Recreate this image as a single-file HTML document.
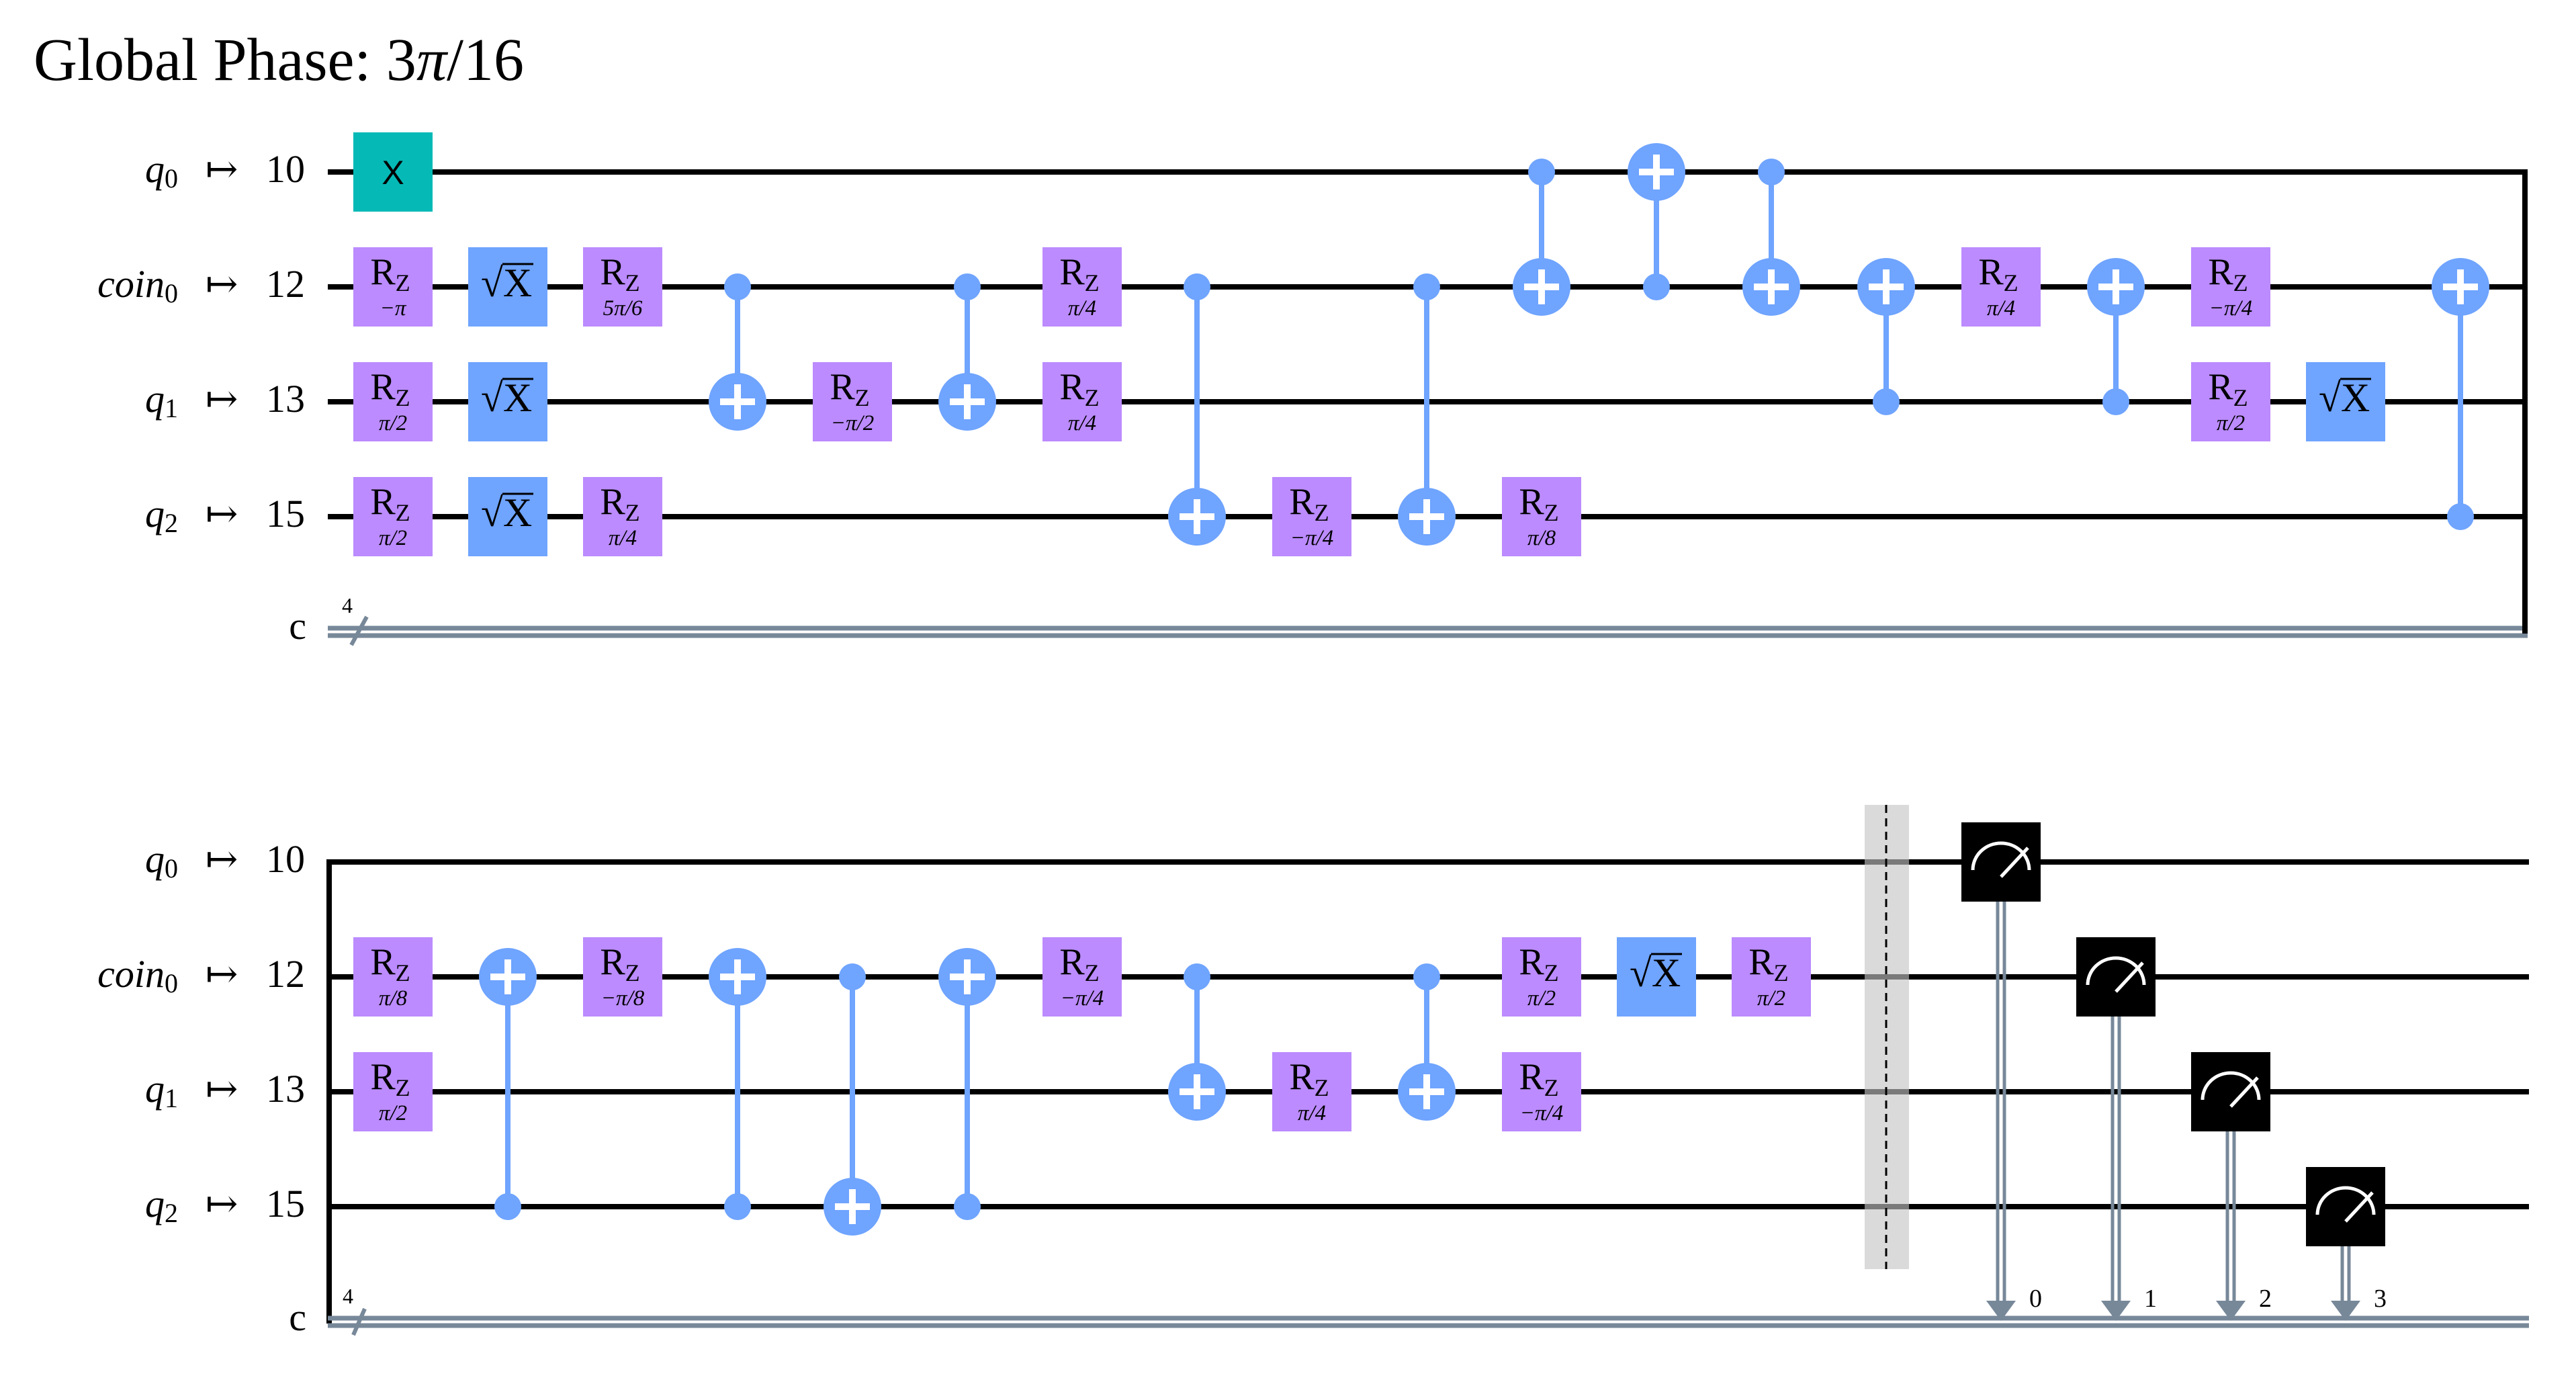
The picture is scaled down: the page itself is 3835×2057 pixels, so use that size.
<!DOCTYPE html>
<html><head><meta charset="utf-8">
<style>
html,body{margin:0;padding:0;background:#fff;}
svg{display:block;}
text{font-family:"Liberation Serif","DejaVu Serif",serif;fill:#000;}
.lab{font-size:58px;}
.it{font-style:italic;}
.sub{font-size:40px;}
.r{font-size:56px;text-anchor:middle;}
.s{font-size:36px;}
.p{font-size:33px;text-anchor:middle;font-style:italic;}
.sx{font-size:60px;}
.xg{font-family:"Liberation Sans",sans-serif;font-size:50px;text-anchor:middle;}
.w{stroke:#000;stroke-width:8;}
.cw{stroke:#778899;stroke-width:7;}
.cl{stroke:#6fa4ff;stroke-width:8;}
.pl{stroke:#fff;stroke-width:10;fill:none;}
.rzr{fill:#bb8bff;}
.sxr{fill:#6fa4ff;}
.dot{fill:#6fa4ff;}
.ml{font-size:38px;}
</style></head>
<body>
<svg width="3835" height="2057" viewBox="0 0 3835 2057" xmlns="http://www.w3.org/2000/svg">
<defs>
<g id="plus"><path class="pl" d="M-26 0 H26 M0 -26 V26"/></g>
<path id="meter" d="M-42 12 A42 40 0 0 1 42 12" stroke="#fff" stroke-width="5" fill="none"/>
</defs>
<text x="50" y="119" style="font-size:90px">Global Phase: 3<tspan font-style="italic">π</tspan>/16</text>

<!-- ============ TOP SECTION ============ -->
<g class="lab">
<text x="265" y="271" text-anchor="end"><tspan class="it">q</tspan><tspan class="sub" dy="8">0</tspan></text>
<text x="265" y="442" text-anchor="end"><tspan class="it">coin</tspan><tspan class="sub" dy="8">0</tspan></text>
<text x="265" y="613" text-anchor="end"><tspan class="it">q</tspan><tspan class="sub" dy="8">1</tspan></text>
<text x="265" y="784" text-anchor="end"><tspan class="it">q</tspan><tspan class="sub" dy="8">2</tspan></text>
<text x="330" y="271" text-anchor="middle">↦</text><text x="330" y="442" text-anchor="middle">↦</text>
<text x="330" y="613" text-anchor="middle">↦</text><text x="330" y="784" text-anchor="middle">↦</text>
<text x="396" y="271">10</text><text x="396" y="442">12</text><text x="396" y="613">13</text><text x="396" y="784">15</text>
<text x="456" y="951" text-anchor="end">c</text>
</g>
<text x="509" y="912" style="font-size:32px">4</text>

<line class="w" x1="488" y1="256" x2="3763" y2="256"/>
<line class="w" x1="488" y1="427" x2="3763" y2="427"/>
<line class="w" x1="488" y1="598" x2="3763" y2="598"/>
<line class="w" x1="488" y1="769" x2="3763" y2="769"/>
<line class="cw" x1="488" y1="935" x2="3763" y2="935"/>
<line class="cw" x1="488" y1="946" x2="3763" y2="946"/>
<line class="cw" x1="523" y1="960" x2="546" y2="918" style="stroke-width:6"/>
<line class="w" x1="3759" y1="252" x2="3759" y2="943"/>

<g transform="translate(585,256)"><rect x="-59" y="-59" width="118" height="118" fill="#05bab6"/><text class="xg" y="18">X</text></g>
<g transform="translate(585,427)"><rect class="rzr" x="-59" y="-59" width="118" height="118"/><text class="r" x="-4" y="-4">R<tspan class="s" dy="10">Z</tspan></text><text class="p" y="42">−π</text></g>
<g transform="translate(585,598)"><rect class="rzr" x="-59" y="-59" width="118" height="118"/><text class="r" x="-4" y="-4">R<tspan class="s" dy="10">Z</tspan></text><text class="p" y="42">π/2</text></g>
<g transform="translate(585,769)"><rect class="rzr" x="-59" y="-59" width="118" height="118"/><text class="r" x="-4" y="-4">R<tspan class="s" dy="10">Z</tspan></text><text class="p" y="42">π/2</text></g>
<g transform="translate(756,427)"><rect class="sxr" x="-59" y="-59" width="118" height="118"/><text class="sx" x="-40" y="14">√X</text><line x1="-8" y1="-34" x2="38" y2="-34" stroke="#000" stroke-width="3"/></g>
<g transform="translate(756,598)"><rect class="sxr" x="-59" y="-59" width="118" height="118"/><text class="sx" x="-40" y="14">√X</text><line x1="-8" y1="-34" x2="38" y2="-34" stroke="#000" stroke-width="3"/></g>
<g transform="translate(756,769)"><rect class="sxr" x="-59" y="-59" width="118" height="118"/><text class="sx" x="-40" y="14">√X</text><line x1="-8" y1="-34" x2="38" y2="-34" stroke="#000" stroke-width="3"/></g>
<g transform="translate(927,427)"><rect class="rzr" x="-59" y="-59" width="118" height="118"/><text class="r" x="-4" y="-4">R<tspan class="s" dy="10">Z</tspan></text><text class="p" y="42">5π/6</text></g>
<g transform="translate(927,769)"><rect class="rzr" x="-59" y="-59" width="118" height="118"/><text class="r" x="-4" y="-4">R<tspan class="s" dy="10">Z</tspan></text><text class="p" y="42">π/4</text></g>
<g transform="translate(1098,0)"><line class="cl" x1="0" y1="427" x2="0" y2="598"/><circle class="dot" cy="427" r="20"/><circle class="dot" cy="598" r="43"/><use href="#plus" y="598"/></g>
<g transform="translate(1269,598)"><rect class="rzr" x="-59" y="-59" width="118" height="118"/><text class="r" x="-4" y="-4">R<tspan class="s" dy="10">Z</tspan></text><text class="p" y="42">−π/2</text></g>
<g transform="translate(1440,0)"><line class="cl" x1="0" y1="427" x2="0" y2="598"/><circle class="dot" cy="427" r="20"/><circle class="dot" cy="598" r="43"/><use href="#plus" y="598"/></g>
<g transform="translate(1611,427)"><rect class="rzr" x="-59" y="-59" width="118" height="118"/><text class="r" x="-4" y="-4">R<tspan class="s" dy="10">Z</tspan></text><text class="p" y="42">π/4</text></g>
<g transform="translate(1611,598)"><rect class="rzr" x="-59" y="-59" width="118" height="118"/><text class="r" x="-4" y="-4">R<tspan class="s" dy="10">Z</tspan></text><text class="p" y="42">π/4</text></g>
<g transform="translate(1782,0)"><line class="cl" x1="0" y1="427" x2="0" y2="769"/><circle class="dot" cy="427" r="20"/><circle class="dot" cy="769" r="43"/><use href="#plus" y="769"/></g>
<g transform="translate(1953,769)"><rect class="rzr" x="-59" y="-59" width="118" height="118"/><text class="r" x="-4" y="-4">R<tspan class="s" dy="10">Z</tspan></text><text class="p" y="42">−π/4</text></g>
<g transform="translate(2124,0)"><line class="cl" x1="0" y1="427" x2="0" y2="769"/><circle class="dot" cy="427" r="20"/><circle class="dot" cy="769" r="43"/><use href="#plus" y="769"/></g>
<g transform="translate(2295,0)"><line class="cl" x1="0" y1="256" x2="0" y2="427"/><circle class="dot" cy="256" r="20"/><circle class="dot" cy="427" r="43"/><use href="#plus" y="427"/></g>
<g transform="translate(2295,769)"><rect class="rzr" x="-59" y="-59" width="118" height="118"/><text class="r" x="-4" y="-4">R<tspan class="s" dy="10">Z</tspan></text><text class="p" y="42">π/8</text></g>
<g transform="translate(2466,0)"><line class="cl" x1="0" y1="256" x2="0" y2="427"/><circle class="dot" cy="427" r="20"/><circle class="dot" cy="256" r="43"/><use href="#plus" y="256"/></g>
<g transform="translate(2637,0)"><line class="cl" x1="0" y1="256" x2="0" y2="427"/><circle class="dot" cy="256" r="20"/><circle class="dot" cy="427" r="43"/><use href="#plus" y="427"/></g>
<g transform="translate(2808,0)"><line class="cl" x1="0" y1="427" x2="0" y2="598"/><circle class="dot" cy="598" r="20"/><circle class="dot" cy="427" r="43"/><use href="#plus" y="427"/></g>
<g transform="translate(2979,427)"><rect class="rzr" x="-59" y="-59" width="118" height="118"/><text class="r" x="-4" y="-4">R<tspan class="s" dy="10">Z</tspan></text><text class="p" y="42">π/4</text></g>
<g transform="translate(3150,0)"><line class="cl" x1="0" y1="427" x2="0" y2="598"/><circle class="dot" cy="598" r="20"/><circle class="dot" cy="427" r="43"/><use href="#plus" y="427"/></g>
<g transform="translate(3321,427)"><rect class="rzr" x="-59" y="-59" width="118" height="118"/><text class="r" x="-4" y="-4">R<tspan class="s" dy="10">Z</tspan></text><text class="p" y="42">−π/4</text></g>
<g transform="translate(3321,598)"><rect class="rzr" x="-59" y="-59" width="118" height="118"/><text class="r" x="-4" y="-4">R<tspan class="s" dy="10">Z</tspan></text><text class="p" y="42">π/2</text></g>
<g transform="translate(3492,598)"><rect class="sxr" x="-59" y="-59" width="118" height="118"/><text class="sx" x="-40" y="14">√X</text><line x1="-8" y1="-34" x2="38" y2="-34" stroke="#000" stroke-width="3"/></g>
<g transform="translate(3663,0)"><line class="cl" x1="0" y1="427" x2="0" y2="769"/><circle class="dot" cy="769" r="20"/><circle class="dot" cy="427" r="43"/><use href="#plus" y="427"/></g>

<!-- ============ BOTTOM SECTION ============ -->
<g class="lab">
<text x="265" y="1298" text-anchor="end"><tspan class="it">q</tspan><tspan class="sub" dy="8">0</tspan></text>
<text x="265" y="1469" text-anchor="end"><tspan class="it">coin</tspan><tspan class="sub" dy="8">0</tspan></text>
<text x="265" y="1640" text-anchor="end"><tspan class="it">q</tspan><tspan class="sub" dy="8">1</tspan></text>
<text x="265" y="1811" text-anchor="end"><tspan class="it">q</tspan><tspan class="sub" dy="8">2</tspan></text>
<text x="330" y="1298" text-anchor="middle">↦</text><text x="330" y="1469" text-anchor="middle">↦</text>
<text x="330" y="1640" text-anchor="middle">↦</text><text x="330" y="1811" text-anchor="middle">↦</text>
<text x="396" y="1298">10</text><text x="396" y="1469">12</text><text x="396" y="1640">13</text><text x="396" y="1811">15</text>
<text x="456" y="1980" text-anchor="end">c</text>
</g>
<text x="510" y="1940" style="font-size:32px">4</text>

<line class="w" x1="490" y1="1283" x2="3765" y2="1283"/>
<line class="w" x1="490" y1="1454" x2="3765" y2="1454"/>
<line class="w" x1="490" y1="1625" x2="3765" y2="1625"/>
<line class="w" x1="490" y1="1796" x2="3765" y2="1796"/>
<line class="w" x1="490" y1="1279" x2="490" y2="1970"/>
<line class="cw" x1="488" y1="1962" x2="3765" y2="1962"/>
<line class="cw" x1="488" y1="1973" x2="3765" y2="1973"/>
<line class="cw" x1="526" y1="1987" x2="543" y2="1948" style="stroke-width:6"/>

<g transform="translate(585,1454)"><rect class="rzr" x="-59" y="-59" width="118" height="118"/><text class="r" x="-4" y="-4">R<tspan class="s" dy="10">Z</tspan></text><text class="p" y="42">π/8</text></g>
<g transform="translate(585,1625)"><rect class="rzr" x="-59" y="-59" width="118" height="118"/><text class="r" x="-4" y="-4">R<tspan class="s" dy="10">Z</tspan></text><text class="p" y="42">π/2</text></g>
<g transform="translate(756,0)"><line class="cl" x1="0" y1="1454" x2="0" y2="1796"/><circle class="dot" cy="1796" r="20"/><circle class="dot" cy="1454" r="43"/><use href="#plus" y="1454"/></g>
<g transform="translate(927,1454)"><rect class="rzr" x="-59" y="-59" width="118" height="118"/><text class="r" x="-4" y="-4">R<tspan class="s" dy="10">Z</tspan></text><text class="p" y="42">−π/8</text></g>
<g transform="translate(1098,0)"><line class="cl" x1="0" y1="1454" x2="0" y2="1796"/><circle class="dot" cy="1796" r="20"/><circle class="dot" cy="1454" r="43"/><use href="#plus" y="1454"/></g>
<g transform="translate(1269,0)"><line class="cl" x1="0" y1="1454" x2="0" y2="1796"/><circle class="dot" cy="1454" r="20"/><circle class="dot" cy="1796" r="43"/><use href="#plus" y="1796"/></g>
<g transform="translate(1440,0)"><line class="cl" x1="0" y1="1454" x2="0" y2="1796"/><circle class="dot" cy="1796" r="20"/><circle class="dot" cy="1454" r="43"/><use href="#plus" y="1454"/></g>
<g transform="translate(1611,1454)"><rect class="rzr" x="-59" y="-59" width="118" height="118"/><text class="r" x="-4" y="-4">R<tspan class="s" dy="10">Z</tspan></text><text class="p" y="42">−π/4</text></g>
<g transform="translate(1782,0)"><line class="cl" x1="0" y1="1454" x2="0" y2="1625"/><circle class="dot" cy="1454" r="20"/><circle class="dot" cy="1625" r="43"/><use href="#plus" y="1625"/></g>
<g transform="translate(1953,1625)"><rect class="rzr" x="-59" y="-59" width="118" height="118"/><text class="r" x="-4" y="-4">R<tspan class="s" dy="10">Z</tspan></text><text class="p" y="42">π/4</text></g>
<g transform="translate(2124,0)"><line class="cl" x1="0" y1="1454" x2="0" y2="1625"/><circle class="dot" cy="1454" r="20"/><circle class="dot" cy="1625" r="43"/><use href="#plus" y="1625"/></g>
<g transform="translate(2295,1454)"><rect class="rzr" x="-59" y="-59" width="118" height="118"/><text class="r" x="-4" y="-4">R<tspan class="s" dy="10">Z</tspan></text><text class="p" y="42">π/2</text></g>
<g transform="translate(2295,1625)"><rect class="rzr" x="-59" y="-59" width="118" height="118"/><text class="r" x="-4" y="-4">R<tspan class="s" dy="10">Z</tspan></text><text class="p" y="42">−π/4</text></g>
<g transform="translate(2466,1454)"><rect class="sxr" x="-59" y="-59" width="118" height="118"/><text class="sx" x="-40" y="14">√X</text><line x1="-8" y1="-34" x2="38" y2="-34" stroke="#000" stroke-width="3"/></g>
<g transform="translate(2637,1454)"><rect class="rzr" x="-59" y="-59" width="118" height="118"/><text class="r" x="-4" y="-4">R<tspan class="s" dy="10">Z</tspan></text><text class="p" y="42">π/2</text></g>
<rect x="2776" y="1198" width="66" height="691" fill="#dadada"/>
<g stroke="#7a7a7a" stroke-width="8">
<line x1="2776" y1="1283" x2="2842" y2="1283"/><line x1="2776" y1="1454" x2="2842" y2="1454"/>
<line x1="2776" y1="1625" x2="2842" y2="1625"/><line x1="2776" y1="1796" x2="2842" y2="1796"/>
</g>
<line x1="2808" y1="1198" x2="2808" y2="1889" stroke="#000" stroke-width="3" stroke-dasharray="12,8"/>

<g transform="translate(2979,1283)">
<line x1="-5" y1="59" x2="-5" y2="660" class="cw" style="stroke-width:5"/><line x1="5" y1="59" x2="5" y2="660" class="cw" style="stroke-width:5"/>
<polygon points="-22,653 22,653 0,683" fill="#778899"/>
<rect x="-59" y="-59" width="118" height="118" fill="#000"/>
<use href="#meter"/><line x1="0" y1="22" x2="40" y2="-21" stroke="#fff" stroke-width="5"/>
<text class="ml" x="42" y="662">0</text>
</g>
<g transform="translate(3150,1454)">
<line x1="-5" y1="59" x2="-5" y2="489" class="cw" style="stroke-width:5"/><line x1="5" y1="59" x2="5" y2="489" class="cw" style="stroke-width:5"/>
<polygon points="-22,482 22,482 0,512" fill="#778899"/>
<rect x="-59" y="-59" width="118" height="118" fill="#000"/>
<use href="#meter"/><line x1="0" y1="22" x2="40" y2="-21" stroke="#fff" stroke-width="5"/>
<text class="ml" x="42" y="491">1</text>
</g>
<g transform="translate(3321,1625)">
<line x1="-5" y1="59" x2="-5" y2="318" class="cw" style="stroke-width:5"/><line x1="5" y1="59" x2="5" y2="318" class="cw" style="stroke-width:5"/>
<polygon points="-22,311 22,311 0,341" fill="#778899"/>
<rect x="-59" y="-59" width="118" height="118" fill="#000"/>
<use href="#meter"/><line x1="0" y1="22" x2="40" y2="-21" stroke="#fff" stroke-width="5"/>
<text class="ml" x="42" y="320">2</text>
</g>
<g transform="translate(3492,1796)">
<line x1="-5" y1="59" x2="-5" y2="147" class="cw" style="stroke-width:5"/><line x1="5" y1="59" x2="5" y2="147" class="cw" style="stroke-width:5"/>
<polygon points="-22,140 22,140 0,170" fill="#778899"/>
<rect x="-59" y="-59" width="118" height="118" fill="#000"/>
<use href="#meter"/><line x1="0" y1="22" x2="40" y2="-21" stroke="#fff" stroke-width="5"/>
<text class="ml" x="42" y="149">3</text>
</g>
</svg>
</body></html>
